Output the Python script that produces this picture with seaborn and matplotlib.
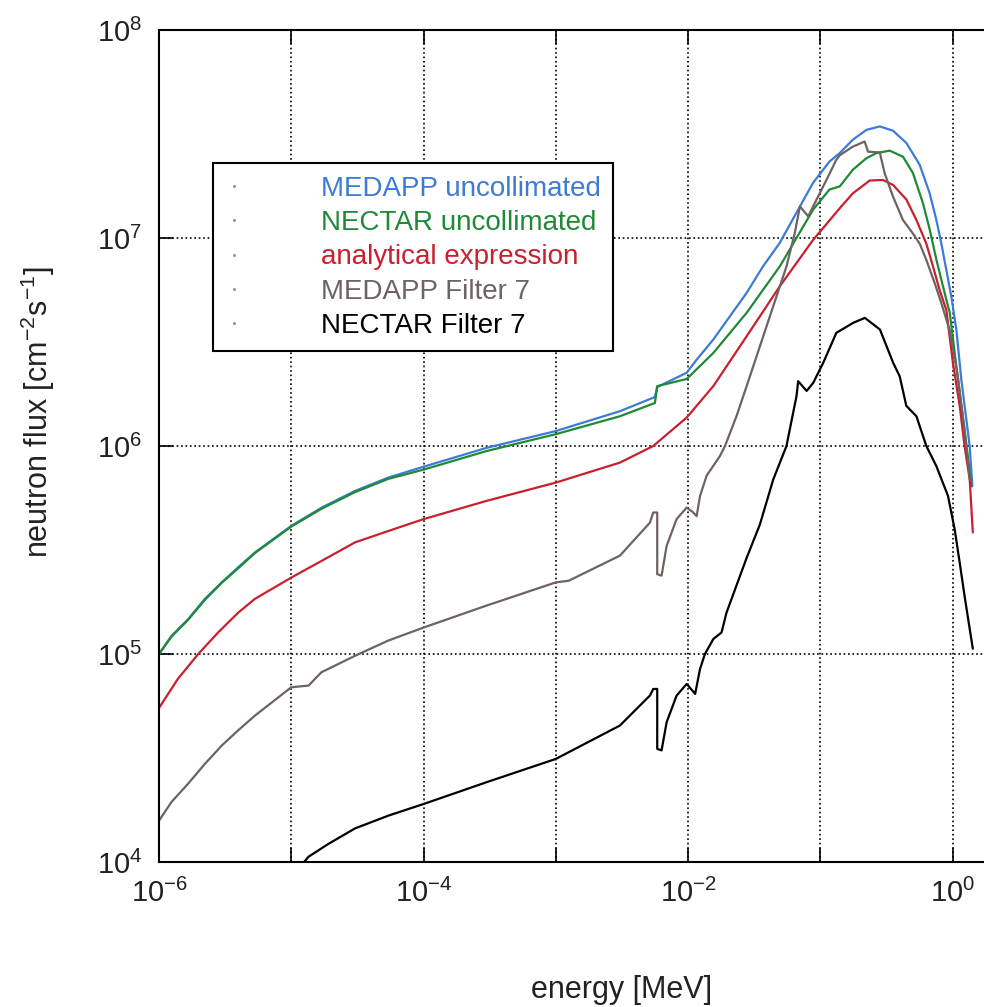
import numpy as np
import matplotlib
matplotlib.use('Agg')
import matplotlib.pyplot as plt
import seaborn as sns
from matplotlib.ticker import LogLocator, NullLocator, FuncFormatter
from matplotlib.lines import Line2D

sns.set_style('white')
plt.rcParams['font.family'] = ['Liberation Sans', 'DejaVu Sans']
plt.rcParams['mathtext.fontset'] = 'custom'
plt.rcParams['mathtext.rm'] = 'Liberation Sans'
plt.rcParams['mathtext.it'] = 'Liberation Sans:italic'
plt.rcParams['mathtext.default'] = 'regular'

# energy [MeV] / flux [cm-2 s-1]
medapp_unc_E = [1e-6, 1.24e-6, 1.66e-6, 2.22e-6, 2.98e-6, 3.96e-6, 5.32e-6, 1e-5, 1.70e-5,
                3.03e-5, 5.41e-5, 1e-4, 3.0e-4, 1e-3, 3.05e-3, 5.61e-3, 5.84e-3, 9.75e-3,
                1.16e-2, 1.55e-2, 2.77e-2, 3.68e-2, 4.92e-2, 8.79e-2, 0.117, 0.140, 0.176,
                0.223, 0.281, 0.354, 0.447, 0.563, 0.670, 0.753, 0.821, 0.896, 0.978, 1.066,
                1.163, 1.269, 1.344, 1.409]
medapp_unc_F = [1.0e5, 1.22e5, 1.47e5, 1.84e5, 2.21e5, 2.61e5, 3.08e5, 4.13e5, 5.06e5,
                6.08e5, 7.05e5, 7.95e5, 9.8e5, 1.18e6, 1.47e6, 1.72e6, 1.92e6, 2.25e6,
                2.6e6, 3.25e6, 5.45e6, 7.3e6, 9.46e6, 1.84e7, 2.33e7, 2.56e7, 2.97e7,
                3.31e7, 3.44e7, 3.28e7, 2.86e7, 2.25e7, 1.64e7, 1.22e7, 9.4e6, 7.0e6, 5.2e6, 3.62e6,
                2.08e6, 1.34e6, 1.0e6, 6.4e5]

nectar_unc_E = [1e-6, 1.24e-6, 1.66e-6, 2.22e-6, 2.98e-6, 3.96e-6, 5.32e-6, 1e-5, 1.70e-5,
                3.03e-5, 5.41e-5, 1e-4, 3.0e-4, 1e-3, 3.05e-3, 5.61e-3, 5.84e-3, 9.75e-3,
                1.55e-2, 2.77e-2, 4.93e-2, 8.82e-2, 0.117, 0.140, 0.176, 0.223, 0.265, 0.334,
                0.421, 0.501, 0.596, 0.670, 0.753, 0.845, 0.922, 0.949, 1.097, 1.23, 1.385]
nectar_unc_F = [1.0e5, 1.21e5, 1.46e5, 1.82e5, 2.2e5, 2.58e5, 3.06e5, 4.1e5, 5.0e5,
                6.0e5, 6.95e5, 7.7e5, 9.46e5, 1.14e6, 1.39e6, 1.61e6, 1.94e6, 2.1e6,
                2.8e6, 4.37e6, 7.3e6, 1.37e7, 1.71e7, 1.77e7, 2.13e7, 2.42e7, 2.56e7, 2.63e7,
                2.46e7, 2.05e7, 1.47e7, 1.1e7, 7.86e6, 5.85e6, 4.69e6, 4.4e6, 2.08e6, 1.2e6, 6.4e5]

analytic_E = [1e-6, 1.39e-6, 1.98e-6, 2.8e-6, 3.97e-6, 5.3e-6, 1e-5, 1.69e-5, 3.03e-5, 5.4e-5,
              1e-4, 3.0e-4, 1e-3, 3.05e-3, 5.45e-3, 9.75e-3, 1.55e-2, 2.77e-2, 4.93e-2, 8.82e-2,
              0.140, 0.176, 0.236, 0.297, 0.354, 0.447, 0.532, 0.632, 0.710, 0.798, 0.896,
              1.005, 1.13, 1.23, 1.345, 1.42]
analytic_F = [5.5e4, 7.6e4, 1.0e5, 1.27e5, 1.58e5, 1.84e5, 2.33e5, 2.8e5, 3.44e5, 3.9e5,
              4.45e5, 5.45e5, 6.67e5, 8.32e5, 1.0e6, 1.37e6, 1.94e6, 3.37e6, 5.86e6, 9.8e6,
              1.39e7, 1.64e7, 1.89e7, 1.9e7, 1.8e7, 1.53e7, 1.22e7, 9.4e6, 7.3e6, 5.6e6, 4.5e6,
              2.5e6, 1.56e6, 1.0e6, 6.9e5, 3.84e5]

medapp_f7_E = [1e-6, 1.24e-6, 1.66e-6, 2.22e-6, 2.98e-6, 3.96e-6, 5.32e-6, 1e-5, 1.35e-5,
               1.69e-5, 3.03e-5, 5.4e-5, 1e-4, 3.0e-4, 1e-3, 1.25e-3, 3.05e-3, 5.14e-3, 5.45e-3,
               5.84e-3, 5.84e-3, 6.3e-3, 6.88e-3, 8.18e-3, 9.75e-3, 1.09e-2, 1.16e-2, 1.23e-2,
               1.38e-2, 1.74e-2, 1.90e-2, 2.32e-2, 2.77e-2, 4.40e-2, 5.54e-2, 6.41e-2, 7.0e-2,
               8.09e-2, 9.35e-2, 0.111, 0.132, 0.140, 0.176, 0.216, 0.229, 0.281, 0.306, 0.354,
               0.421, 0.501, 0.563, 0.632, 0.731, 0.821, 0.949, 1.09, 1.269, 1.345]
medapp_f7_F = [1.58e4, 1.94e4, 2.38e4, 2.96e4, 3.63e4, 4.29e4, 5.06e4, 6.92e4, 7.05e4,
               8.17e4, 9.8e4, 1.16e5, 1.34e5, 1.71e5, 2.21e5, 2.25e5, 2.97e5, 4.28e5, 4.79e5,
               4.79e5, 2.42e5, 2.38e5, 3.31e5, 4.45e5, 5.06e5, 4.8e5, 4.6e5, 5.75e5,
               7.2e5, 8.95e5, 1.0e6, 1.39e6, 1.94e6, 4.7e6, 7.3e6, 1.06e7, 1.42e7,
               1.27e7, 1.53e7, 1.9e7, 2.38e7, 2.5e7, 2.75e7, 2.91e7, 2.6e7, 2.58e7, 2.05e7, 1.58e7,
               1.22e7, 1.05e7, 9.4e6, 7.85e6, 6.07e6, 4.86e6, 3.6e6, 2.2e6, 1.0e6, 6.9e5]

nectar_f7_E = [1.25e-5, 1.35e-5, 1.9e-5, 3.03e-5, 5.41e-5, 1e-4, 3.0e-4, 1e-3, 3.05e-3,
               5.14e-3, 5.45e-3, 5.84e-3, 5.84e-3, 6.3e-3, 6.88e-3, 8.18e-3, 9.75e-3, 1.13e-2,
               1.23e-2, 1.34e-2, 1.55e-2, 1.79e-2, 1.95e-2, 2.77e-2, 3.49e-2, 4.40e-2, 5.54e-2,
               6.60e-2, 6.79e-2, 7.87e-2, 8.82e-2, 0.105, 0.132, 0.177, 0.217, 0.282, 0.355,
               0.398, 0.446, 0.532, 0.632, 0.753, 0.922, 1.035, 1.13, 1.23, 1.345, 1.42]
nectar_f7_F = [1.0e4, 1.06e4, 1.22e4, 1.45e4, 1.67e4, 1.9e4, 2.42e4, 3.13e4, 4.53e4,
               6.31e4, 6.79e4, 6.79e4, 3.5e4, 3.44e4, 4.7e4, 6.31e4, 7.18e4, 6.43e4,
               8.47e4, 1.0e5, 1.18e5, 1.27e5, 1.58e5, 2.9e5, 4.2e5, 6.9e5, 1.0e6,
               1.74e6, 2.05e6, 1.84e6, 2.01e6, 2.51e6, 3.5e6, 3.91e6, 4.13e6, 3.63e6, 2.51e6,
               2.16e6, 1.56e6, 1.39e6, 1.0e6, 8.0e5, 5.75e5, 3.98e5, 2.75e5, 1.9e5, 1.32e5, 1.06e5]

labels = ['MEDAPP uncollimated', 'NECTAR uncollimated', 'analytical expression',
          'MEDAPP Filter 7', 'NECTAR Filter 7']
colors = ['#3d7bd6', '#1f8a35', '#c8202e', '#6e6262', '#000000']
series = [(medapp_unc_E, medapp_unc_F), (nectar_unc_E, nectar_unc_F),
          (analytic_E, analytic_F), (medapp_f7_E, medapp_f7_F), (nectar_f7_E, nectar_f7_F)]

fig = plt.figure(figsize=(9.84, 10.07), dpi=100)
ax = fig.add_axes([0.1616, 0.144, 0.941, 0.8262])
ax.set_xscale('log')
ax.set_yscale('log')

for (E, F), c in zip(series, colors):
    sns.lineplot(x=E, y=F, ax=ax, color=c, lw=1.6, estimator=None, sort=False)

ax.set_xlim(1e-6, 1e1)
ax.set_ylim(1e4, 1e8)

ax.xaxis.set_major_locator(LogLocator(base=10, subs=(1.0,), numticks=20))
ax.yaxis.set_major_locator(LogLocator(base=10, subs=(1.0,), numticks=20))
ax.xaxis.set_minor_locator(NullLocator())
ax.yaxis.set_minor_locator(NullLocator())


def xfmt(v, pos):
    e = int(round(np.log10(v)))
    return r'$\mathdefault{10^{%d}}$' % e if e % 2 == 0 else ''


def yfmt(v, pos):
    e = int(round(np.log10(v)))
    return r'$\mathdefault{10^{%d}}$' % e


ax.xaxis.set_major_formatter(FuncFormatter(xfmt))
ax.yaxis.set_major_formatter(FuncFormatter(yfmt))

ax.tick_params(which='major', direction='in', length=10, width=1.2, color='black',
               bottom=True, left=True, top=True, right=True, labelsize=21, pad=12,
               labelcolor='#222222')
ax.grid(True, which='major', ls=':', color='black', lw=1.2)
for s in ax.spines.values():
    s.set_color('black')
    s.set_linewidth(1.5)

ax.set_xlabel('energy [MeV]', fontsize=22, labelpad=48, color='#222222')
ax.set_ylabel(r'neutron flux [cm$^{-2}$s$^{-1}$]', fontsize=22, color='#222222')
ax.yaxis.set_label_coords(-0.11, 0.541)

handles = [Line2D([], [], ls='none', marker='.', ms=2.5, color='0.6') for _ in labels]
leg = ax.legend(handles, labels, loc='upper left', bbox_to_anchor=(0.058, 0.840),
                fontsize=20, frameon=True, fancybox=False, framealpha=1,
                edgecolor='black', borderpad=0.45, labelspacing=0.3,
                handlelength=0.6, handletextpad=2.85, borderaxespad=0)
leg.get_frame().set_linewidth(1.5)
for t, c in zip(leg.get_texts(), colors):
    t.set_color(c)

fig.savefig('out.png', dpi=100)
